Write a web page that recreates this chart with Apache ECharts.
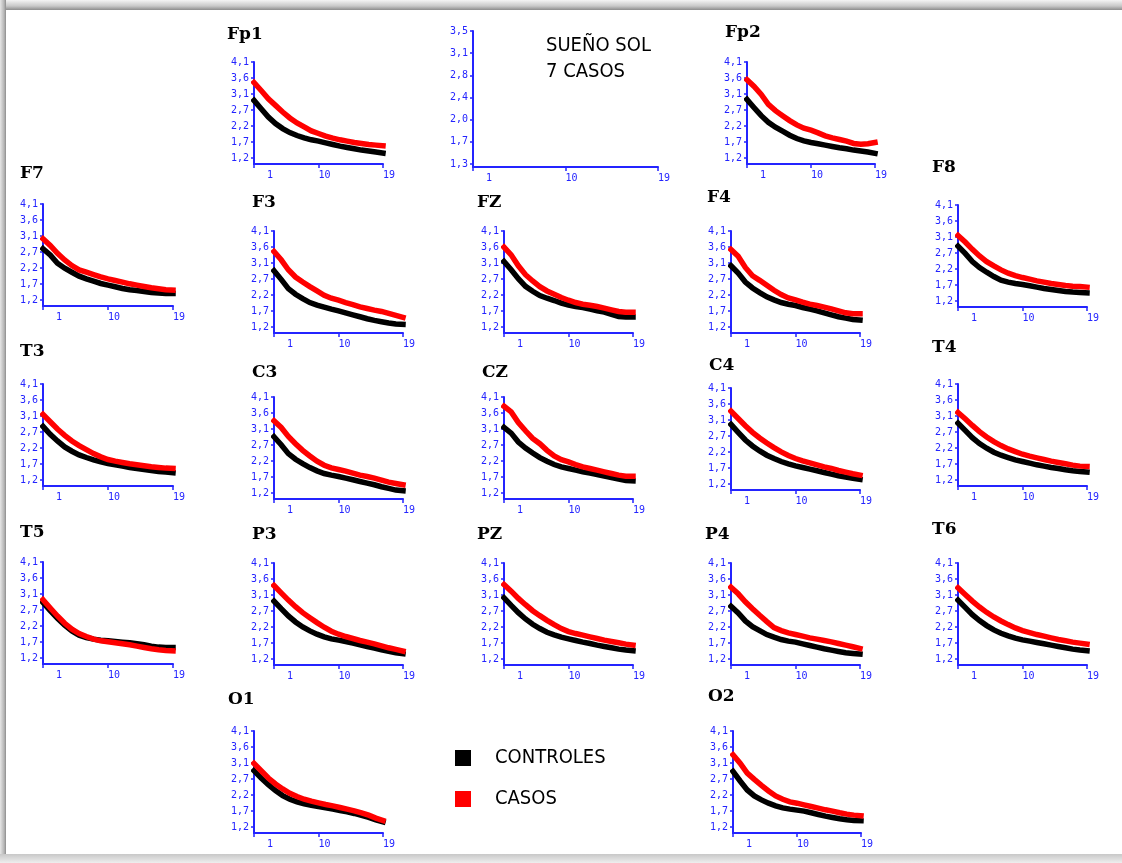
<!DOCTYPE html>
<html>
<head>
<meta charset="utf-8">
<title>SUEÑO SOL - 7 CASOS</title>
<script src="https://cdn.jsdelivr.net/npm/echarts@6/dist/echarts.min.js"></script>
<style>
  html, body { margin: 0; padding: 0; background: #fff; }
  #chart { width: 1122px; height: 863px; }
</style>
</head>
<body>
<div id="chart"></div>
<script>
// Frequency bins (x axis) shared by every channel
const FREQ = [1, 2, 3, 4, 5, 6, 7, 8, 9, 10, 11, 12, 13, 14, 15, 16, 17, 18, 19];
const X_TICKS = [1, 10, 19];

// Channel y scale: seven ticks from 1.2 to 4.1, labelled to one decimal
const Y_TICKS = [1.2, 1.6833, 2.1667, 2.65, 3.1333, 3.6167, 4.1];
const Y_TICK_LABELS = ['1,2', '1,7', '2,2', '2,7', '3,1', '3,6', '4,1'];

// Scale of the reference axis in the header
const REF_Y_TICKS = [1.3, 1.6667, 2.0333, 2.4, 2.7667, 3.1333, 3.5];
const REF_Y_TICK_LABELS = ['1,3', '1,7', '2,0', '2,4', '2,8', '3,1', '3,5'];

const SERIES_NAMES = ['CONTROLES', 'CASOS'];

// Values per channel: controls and cases
const FP1_CONTROLES = [2.94, 2.69, 2.44, 2.24, 2.09, 1.97, 1.88, 1.81, 1.75, 1.71, 1.66, 1.61, 1.56, 1.52, 1.48, 1.44, 1.41, 1.38, 1.35];
const FP1_CASOS     = [3.48, 3.24, 2.99, 2.79, 2.59, 2.41, 2.26, 2.14, 2.02, 1.94, 1.86, 1.80, 1.75, 1.71, 1.67, 1.64, 1.61, 1.59, 1.57];
const FP2_CONTROLES = [2.97, 2.72, 2.48, 2.28, 2.13, 2.01, 1.89, 1.79, 1.72, 1.67, 1.63, 1.59, 1.55, 1.51, 1.48, 1.44, 1.41, 1.38, 1.34];
const FP2_CASOS     = [3.56, 3.36, 3.12, 2.82, 2.63, 2.48, 2.33, 2.20, 2.10, 2.04, 1.96, 1.87, 1.81, 1.76, 1.71, 1.64, 1.62, 1.63, 1.67];
const F7_CONTROLES  = [2.75, 2.56, 2.31, 2.16, 2.04, 1.92, 1.84, 1.77, 1.70, 1.65, 1.60, 1.55, 1.51, 1.49, 1.46, 1.43, 1.41, 1.40, 1.40];
const F7_CASOS      = [3.05, 2.85, 2.61, 2.41, 2.24, 2.11, 2.04, 1.97, 1.90, 1.84, 1.79, 1.74, 1.69, 1.65, 1.61, 1.57, 1.54, 1.51, 1.50];
const F3_CONTROLES  = [2.90, 2.64, 2.36, 2.19, 2.06, 1.94, 1.86, 1.80, 1.74, 1.69, 1.63, 1.57, 1.51, 1.45, 1.40, 1.36, 1.32, 1.29, 1.28];
const F3_CASOS      = [3.48, 3.23, 2.93, 2.71, 2.56, 2.42, 2.29, 2.16, 2.07, 2.01, 1.94, 1.88, 1.81, 1.76, 1.71, 1.67, 1.61, 1.55, 1.49];
const FZ_CONTROLES  = [3.18, 2.93, 2.66, 2.43, 2.28, 2.15, 2.07, 2.00, 1.92, 1.86, 1.82, 1.79, 1.74, 1.69, 1.65, 1.58, 1.52, 1.50, 1.50];
const FZ_CASOS      = [3.61, 3.38, 3.05, 2.78, 2.59, 2.42, 2.29, 2.19, 2.09, 2.01, 1.94, 1.89, 1.86, 1.82, 1.77, 1.72, 1.67, 1.65, 1.65];
const F4_CONTROLES  = [3.05, 2.83, 2.56, 2.38, 2.24, 2.11, 2.02, 1.94, 1.89, 1.85, 1.79, 1.74, 1.69, 1.63, 1.57, 1.51, 1.47, 1.43, 1.41];
const F4_CASOS      = [3.54, 3.34, 3.00, 2.75, 2.61, 2.46, 2.31, 2.18, 2.08, 2.02, 1.95, 1.89, 1.85, 1.80, 1.75, 1.69, 1.63, 1.60, 1.60];
const F8_CONTROLES  = [2.86, 2.64, 2.39, 2.21, 2.07, 1.94, 1.83, 1.77, 1.73, 1.70, 1.66, 1.62, 1.58, 1.55, 1.52, 1.49, 1.47, 1.46, 1.45];
const F8_CASOS      = [3.18, 2.98, 2.76, 2.56, 2.39, 2.26, 2.14, 2.04, 1.97, 1.91, 1.86, 1.81, 1.77, 1.73, 1.70, 1.67, 1.65, 1.64, 1.62];
const T3_CONTROLES  = [2.82, 2.58, 2.38, 2.20, 2.07, 1.96, 1.88, 1.81, 1.75, 1.70, 1.66, 1.62, 1.58, 1.55, 1.52, 1.49, 1.46, 1.44, 1.42];
const T3_CASOS      = [3.18, 2.96, 2.74, 2.55, 2.38, 2.24, 2.12, 2.00, 1.90, 1.82, 1.77, 1.73, 1.69, 1.66, 1.63, 1.60, 1.58, 1.56, 1.55];
const C3_CONTROLES  = [2.90, 2.66, 2.39, 2.22, 2.09, 1.97, 1.87, 1.79, 1.74, 1.70, 1.65, 1.60, 1.55, 1.50, 1.45, 1.39, 1.34, 1.29, 1.27];
const C3_CASOS      = [3.38, 3.18, 2.91, 2.69, 2.49, 2.32, 2.16, 2.04, 1.96, 1.91, 1.86, 1.80, 1.74, 1.70, 1.65, 1.59, 1.53, 1.49, 1.45];
const CZ_CONTROLES  = [3.18, 3.01, 2.74, 2.56, 2.41, 2.27, 2.16, 2.06, 1.99, 1.94, 1.89, 1.84, 1.80, 1.76, 1.71, 1.67, 1.62, 1.58, 1.57];
const CZ_CASOS      = [3.82, 3.65, 3.33, 3.08, 2.85, 2.69, 2.49, 2.32, 2.21, 2.14, 2.06, 1.99, 1.94, 1.89, 1.84, 1.79, 1.74, 1.71, 1.71];
const C4_CONTROLES  = [3.00, 2.76, 2.53, 2.35, 2.20, 2.07, 1.97, 1.88, 1.81, 1.75, 1.70, 1.65, 1.60, 1.55, 1.50, 1.45, 1.41, 1.37, 1.34];
const C4_CASOS      = [3.40, 3.18, 2.96, 2.76, 2.59, 2.44, 2.30, 2.17, 2.06, 1.97, 1.90, 1.84, 1.78, 1.72, 1.67, 1.61, 1.56, 1.51, 1.47];
const T4_CONTROLES  = [2.92, 2.70, 2.48, 2.30, 2.16, 2.04, 1.95, 1.88, 1.81, 1.76, 1.71, 1.66, 1.62, 1.58, 1.55, 1.51, 1.48, 1.46, 1.44];
const T4_CASOS      = [3.24, 3.05, 2.85, 2.66, 2.50, 2.36, 2.24, 2.14, 2.06, 1.98, 1.92, 1.87, 1.82, 1.77, 1.73, 1.69, 1.65, 1.62, 1.61];
const T5_CONTROLES  = [2.88, 2.63, 2.40, 2.19, 2.02, 1.89, 1.82, 1.77, 1.74, 1.72, 1.70, 1.68, 1.66, 1.63, 1.60, 1.56, 1.53, 1.52, 1.52];
const T5_CASOS      = [2.96, 2.71, 2.47, 2.25, 2.07, 1.94, 1.85, 1.77, 1.72, 1.69, 1.66, 1.63, 1.60, 1.56, 1.52, 1.48, 1.45, 1.43, 1.42];
const P3_CONTROLES  = [2.95, 2.72, 2.50, 2.32, 2.17, 2.05, 1.95, 1.87, 1.81, 1.77, 1.73, 1.68, 1.63, 1.58, 1.53, 1.48, 1.43, 1.39, 1.36];
const P3_CASOS      = [3.42, 3.20, 2.98, 2.78, 2.60, 2.45, 2.30, 2.16, 2.04, 1.95, 1.88, 1.82, 1.76, 1.71, 1.66, 1.60, 1.54, 1.49, 1.44];
const PZ_CONTROLES  = [3.05, 2.82, 2.60, 2.41, 2.25, 2.12, 2.01, 1.93, 1.86, 1.81, 1.76, 1.71, 1.67, 1.62, 1.58, 1.54, 1.50, 1.47, 1.45];
const PZ_CASOS      = [3.45, 3.25, 3.03, 2.84, 2.66, 2.51, 2.37, 2.24, 2.12, 2.03, 1.97, 1.92, 1.87, 1.82, 1.77, 1.73, 1.69, 1.65, 1.62];
const P4_CONTROLES  = [2.79, 2.59, 2.35, 2.18, 2.06, 1.94, 1.86, 1.79, 1.74, 1.71, 1.66, 1.61, 1.56, 1.51, 1.47, 1.43, 1.39, 1.37, 1.35];
const P4_CASOS      = [3.37, 3.17, 2.93, 2.72, 2.52, 2.33, 2.15, 2.06, 1.99, 1.94, 1.89, 1.84, 1.80, 1.76, 1.72, 1.67, 1.62, 1.57, 1.52];
const T6_CONTROLES  = [2.98, 2.76, 2.54, 2.36, 2.21, 2.08, 1.98, 1.90, 1.83, 1.78, 1.74, 1.70, 1.66, 1.62, 1.58, 1.54, 1.50, 1.47, 1.45];
const T6_CASOS      = [3.35, 3.15, 2.95, 2.77, 2.61, 2.47, 2.35, 2.24, 2.14, 2.06, 2.00, 1.94, 1.89, 1.84, 1.79, 1.75, 1.71, 1.68, 1.65];
const O1_CONTROLES  = [2.90, 2.68, 2.48, 2.30, 2.15, 2.04, 1.96, 1.90, 1.86, 1.82, 1.78, 1.74, 1.70, 1.66, 1.61, 1.55, 1.49, 1.42, 1.36];
const O1_CASOS      = [3.12, 2.90, 2.68, 2.50, 2.35, 2.22, 2.12, 2.04, 1.98, 1.93, 1.88, 1.84, 1.79, 1.74, 1.69, 1.63, 1.56, 1.47, 1.40];
const O2_CONTROLES  = [2.88, 2.59, 2.32, 2.14, 2.02, 1.92, 1.84, 1.78, 1.74, 1.71, 1.68, 1.63, 1.58, 1.53, 1.49, 1.45, 1.42, 1.40, 1.39];
const O2_CASOS      = [3.38, 3.13, 2.83, 2.64, 2.46, 2.29, 2.14, 2.04, 1.96, 1.92, 1.87, 1.82, 1.77, 1.72, 1.68, 1.63, 1.59, 1.56, 1.54];

// Page layout: where each channel panel sits (axis origin x, top of scale, right end, title corner)
const PANELS = [
  { ch: 'Fp1', ctrl: FP1_CONTROLES, cas: FP1_CASOS, x: 254, top: 62,  right: 383,  tx: 227, ty: 26 },
  { ch: 'Fp2', ctrl: FP2_CONTROLES, cas: FP2_CASOS, x: 747, top: 62,  right: 875,  tx: 725, ty: 24 },
  { ch: 'F7',  ctrl: F7_CONTROLES,  cas: F7_CASOS,  x: 43,  top: 204, right: 173,  tx: 20,  ty: 165 },
  { ch: 'F3',  ctrl: F3_CONTROLES,  cas: F3_CASOS,  x: 274, top: 231, right: 403,  tx: 252, ty: 194 },
  { ch: 'FZ',  ctrl: FZ_CONTROLES,  cas: FZ_CASOS,  x: 504, top: 231, right: 633,  tx: 477, ty: 194 },
  { ch: 'F4',  ctrl: F4_CONTROLES,  cas: F4_CASOS,  x: 731, top: 231, right: 860,  tx: 707, ty: 189 },
  { ch: 'F8',  ctrl: F8_CONTROLES,  cas: F8_CASOS,  x: 958, top: 205, right: 1087, tx: 932, ty: 159 },
  { ch: 'T3',  ctrl: T3_CONTROLES,  cas: T3_CASOS,  x: 43,  top: 384, right: 173,  tx: 20,  ty: 343 },
  { ch: 'C3',  ctrl: C3_CONTROLES,  cas: C3_CASOS,  x: 274, top: 397, right: 403,  tx: 252, ty: 364 },
  { ch: 'CZ',  ctrl: CZ_CONTROLES,  cas: CZ_CASOS,  x: 504, top: 397, right: 633,  tx: 482, ty: 364 },
  { ch: 'C4',  ctrl: C4_CONTROLES,  cas: C4_CASOS,  x: 731, top: 388, right: 860,  tx: 709, ty: 357 },
  { ch: 'T4',  ctrl: T4_CONTROLES,  cas: T4_CASOS,  x: 958, top: 384, right: 1087, tx: 932, ty: 339 },
  { ch: 'T5',  ctrl: T5_CONTROLES,  cas: T5_CASOS,  x: 43,  top: 562, right: 173,  tx: 20,  ty: 524 },
  { ch: 'P3',  ctrl: P3_CONTROLES,  cas: P3_CASOS,  x: 274, top: 563, right: 403,  tx: 252, ty: 526 },
  { ch: 'PZ',  ctrl: PZ_CONTROLES,  cas: PZ_CASOS,  x: 504, top: 563, right: 633,  tx: 477, ty: 526 },
  { ch: 'P4',  ctrl: P4_CONTROLES,  cas: P4_CASOS,  x: 731, top: 563, right: 860,  tx: 705, ty: 526 },
  { ch: 'T6',  ctrl: T6_CONTROLES,  cas: T6_CASOS,  x: 958, top: 563, right: 1087, tx: 932, ty: 521 },
  { ch: 'O1',  ctrl: O1_CONTROLES,  cas: O1_CASOS,  x: 254, top: 731, right: 383,  tx: 228, ty: 691 },
  { ch: 'O2',  ctrl: O2_CONTROLES,  cas: O2_CASOS,  x: 733, top: 731, right: 861,  tx: 708, ty: 688 }
];

const BLUE = '#2424ff';
const TICK_FONT = "'DejaVu Sans Mono', 'Liberation Mono', monospace";
const NARROW_FONT = "'Liberation Sans Narrow', 'DejaVu Sans Condensed', 'Roboto Condensed', 'Arial Narrow', 'Roboto', sans-serif";
const PANEL_HEIGHT = 102;    // from 4.1 down to the x axis line
const Y_MIN = 1.02;          // x axis line sits a little below the 1.2 tick
const COLORS = { CONTROLES: '#000000', CASOS: '#ff0000' };

function nearestLabel(ticks, labels, v) {
  let best = 0;
  for (let i = 1; i < ticks.length; i++) {
    if (Math.abs(ticks[i] - v) < Math.abs(ticks[best] - v)) best = i;
  }
  return labels[best];
}

function xAxisFor(gridIndex) {
  return {
    gridIndex, type: 'value', min: 1, max: 19,
    axisLine: { show: true, onZero: false, lineStyle: { color: BLUE, width: 2 } },
    axisTick: { show: true, customValues: X_TICKS, length: 4, lineStyle: { color: BLUE, width: 1.5 } },
    axisLabel: {
      customValues: X_TICKS, color: BLUE, fontFamily: TICK_FONT, fontSize: 10,
      align: 'left', margin: 6,
      formatter: v => (v === 1 ? '{first|1}' : String(v)),
      rich: { first: { padding: [0, 0, 0, 13], color: BLUE, fontFamily: TICK_FONT, fontSize: 10 } }
    },
    splitLine: { show: false }
  };
}

function yAxisFor(gridIndex, min, max, ticks, labels) {
  return {
    gridIndex, type: 'value', min, max,
    axisLine: { show: true, lineStyle: { color: BLUE, width: 2 } },
    axisTick: { show: true, customValues: ticks, length: 3, lineStyle: { color: BLUE, width: 1.5 } },
    axisLabel: {
      customValues: ticks, color: BLUE, fontFamily: TICK_FONT, fontSize: 10, margin: 5,
      formatter: v => nearestLabel(ticks, labels, v)
    },
    splitLine: { show: false }
  };
}

const grids = [], xAxes = [], yAxes = [], series = [], titles = [];

PANELS.forEach((p, i) => {
  grids.push({ left: p.x, top: p.top, width: p.right - p.x, height: PANEL_HEIGHT });
  xAxes.push(xAxisFor(i));
  yAxes.push(yAxisFor(i, Y_MIN, 4.1, Y_TICKS, Y_TICK_LABELS));
  titles.push({
    text: p.ch, left: p.tx, top: p.ty, padding: 0,
    textStyle: { fontFamily: "'DejaVu Serif', 'Liberation Serif', serif", fontWeight: 'bold', fontSize: 17, color: '#000' }
  });
  [['CONTROLES', p.ctrl, 2], ['CASOS', p.cas, 3]].forEach(([name, vals, z]) => {
    series.push({
      name, type: 'line', xAxisIndex: i, yAxisIndex: i, z,
      data: FREQ.map((f, j) => [f, vals[j]]),
      symbol: 'none', color: COLORS[name],
      lineStyle: { width: 5.5, color: COLORS[name], cap: 'square', join: 'miter' },
      emphasis: { disabled: true }
    });
  });
});

// Reference scale in the header (no curves)
const refIndex = PANELS.length;
grids.push({ left: 473, top: 31, width: 185, height: 136 });
xAxes.push(xAxisFor(refIndex));
yAxes.push(yAxisFor(refIndex, 1.25, 3.5, REF_Y_TICKS, REF_Y_TICK_LABELS));
series.push({ name: 'ref', type: 'line', xAxisIndex: refIndex, yAxisIndex: refIndex, data: [], symbol: 'none' });

titles.push({
  text: 'SUEÑO SOL\n7 CASOS', left: 546, top: 33, padding: 0,
  textStyle: { fontFamily: NARROW_FONT, fontWeight: 'normal', fontSize: 20, lineHeight: 26, color: '#000' }
});

const chart = echarts.init(document.getElementById('chart'), null, { renderer: 'canvas' });
chart.setOption({
  animation: false,
  backgroundColor: '#ffffff',
  title: titles,
  grid: grids,
  xAxis: xAxes,
  yAxis: yAxes,
  series,
  legend: {
    data: SERIES_NAMES, orient: 'vertical', left: 450, top: 743,
    icon: 'rect', itemWidth: 16, itemHeight: 16, itemGap: 21, selectedMode: false,
    textStyle: { fontFamily: NARROW_FONT, fontSize: 20, color: '#000', padding: [0, 0, 0, 19] }
  },
  graphic: [
    { type: 'rect', silent: true, z: 100, shape: { x: 0, y: 0, width: 1122, height: 10 },
      style: { fill: new echarts.graphic.LinearGradient(0, 0, 0, 1, [
        { offset: 0, color: '#f4f4f4' }, { offset: 0.6, color: '#c8c8c8' }, { offset: 1, color: '#8c8c8c' }]) } },
    { type: 'rect', silent: true, z: 100, shape: { x: 0, y: 0, width: 6, height: 863 },
      style: { fill: new echarts.graphic.LinearGradient(0, 0, 1, 0, [
        { offset: 0, color: '#e6e6e6' }, { offset: 0.7, color: '#b4b4b4' }, { offset: 1, color: '#8c8c8c' }]) } },
    { type: 'rect', silent: true, z: 100, shape: { x: 0, y: 854, width: 1122, height: 9 },
      style: { fill: new echarts.graphic.LinearGradient(0, 0, 0, 1, [
        { offset: 0, color: '#c8c8c8' }, { offset: 1, color: '#eeeeee' }]) } }
  ]
});
</script>
</body>
</html>
